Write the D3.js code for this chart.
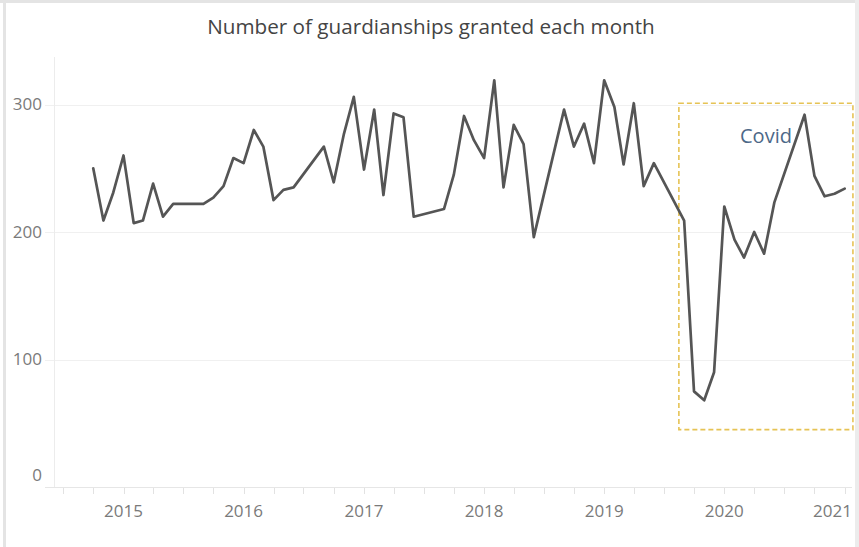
<!DOCTYPE html>
<html>
<head>
<meta charset="utf-8">
<script src="https://cdn.jsdelivr.net/npm/d3@7/dist/d3.min.js"></script>
<style>
  html, body { margin: 0; padding: 0; background: #fff; }
  svg { display: block; }
  text { font-family: "Open Sans", "Noto Sans", sans-serif; }
</style>
</head>
<body>
<svg id="chart" width="859" height="547"></svg>
<script>
// ---- data ----
const title = "Number of guardianships granted each month";
const months = [
  "2014-10","2014-11","2014-12",
  "2015-01","2015-02","2015-03","2015-04","2015-05","2015-06","2015-09","2015-10","2015-11","2015-12",
  "2016-01","2016-02","2016-03","2016-04","2016-05","2016-06","2016-09","2016-10","2016-11","2016-12",
  "2017-01","2017-02","2017-03","2017-04","2017-05","2017-06","2017-09","2017-10","2017-11","2017-12",
  "2018-01","2018-02","2018-03","2018-04","2018-05","2018-06","2018-09","2018-10","2018-11","2018-12",
  "2019-01","2019-02","2019-03","2019-04","2019-05","2019-06","2019-09","2019-10","2019-11","2019-12",
  "2020-01","2020-02","2020-03","2020-04","2020-05","2020-06","2020-09","2020-10","2020-11","2020-12",
  "2021-01"
];
const granted = [
  250,209,231,
  260,207,209,238,212,222,222,227,236,258,
  254,280,267,225,233,235,267,239,277,306,
  249,296,229,293,290,212,218,245,291,272,
  258,319,235,284,269,196,296,267,285,254,
  319,298,253,301,236,254,209,75,68,90,
  220,194,180,200,183,223,292,244,228,230,
  234
];
const yTicks = [0, 100, 200, 300];
const yearTicks = ["2015","2016","2017","2018","2019","2020","2021"];
const covidLabel = "Covid";
const covidBox = { from: "2019-08-16", to: "2021-01-26", low: 45, high: 301 };

// ---- layout ----
const svg = d3.select("#chart");
const W = 859, H = 547;
const plot = { left: 54, right: 852, top: 57, bottom: 487 };
const parse = d3.timeParse("%Y-%m");
const parseDay = d3.timeParse("%Y-%m-%d");
const data = months.map((m, i) => ({ date: parse(m), value: granted[i] }));

const x = d3.scaleTime()
  .domain([new Date(2015, 0, 1), new Date(2021, 0, 1)])
  .range([123.5, 844.7]);
const y = d3.scaleLinear().domain([0, 300]).range([487, 104.5]);

// frame
svg.append("rect").attr("x", 0).attr("y", 0).attr("width", W).attr("height", H).attr("fill", "#fff");
svg.append("line").attr("x1", 4.5).attr("x2", 4.5).attr("y1", 0).attr("y2", H)
  .attr("stroke", "#e4e4e4").attr("stroke-width", 3);
svg.append("line").attr("x1", 0).attr("x2", W).attr("y1", 1.5).attr("y2", 1.5)
  .attr("stroke", "#e4e4e4").attr("stroke-width", 3);
svg.append("rect").attr("x", 855).attr("y", 0).attr("width", 4).attr("height", H).attr("fill", "#ececec");

// gridlines
svg.append("g").selectAll("line").data(yTicks).join("line")
  .attr("x1", 45).attr("x2", plot.right)
  .attr("y1", d => Math.round(y(d)) + 0.5).attr("y2", d => Math.round(y(d)) + 0.5)
  .attr("stroke", d => d === 0 ? "#e6e6e6" : "#f0f0f0").attr("stroke-width", 1);

// vertical axis line
svg.append("line").attr("x1", plot.left + 0.5).attr("x2", plot.left + 0.5)
  .attr("y1", plot.top).attr("y2", plot.bottom)
  .attr("stroke", "#ececec").attr("stroke-width", 1);

// x ticks (quarterly)
const tickDates = d3.timeMonth.every(3).range(new Date(2014, 6, 1), new Date(2021, 0, 2));
svg.append("g").selectAll("line").data(tickDates).join("line")
  .attr("x1", d => Math.round(x(d)) + 0.5).attr("x2", d => Math.round(x(d)) + 0.5)
  .attr("y1", plot.bottom + 1).attr("y2", plot.bottom + 7)
  .attr("stroke", "#e2e2e2").attr("stroke-width", 1);

// y tick labels
svg.append("g").selectAll("text").data(yTicks).join("text")
  .attr("x", 42).attr("y", d => d === 0 ? y(d) - 12 : y(d))
  .attr("dy", "0.35em").attr("text-anchor", "end")
  .attr("font-size", 17).attr("fill", "#7a7a7a")
  .text(d => d);

// x tick labels
const xl = svg.append("g").selectAll("text").data(yearTicks).join("text")
  .attr("y", 511).attr("dy", "0.35em")
  .attr("font-size", 17).attr("fill", "#7a7a7a")
  .text(d => d);
xl.each(function (d) {
  const t = d3.select(this);
  const cx = x(new Date(+d, 0, 1));
  const w = this.getComputedTextLength();
  if (cx + w / 2 > plot.right) t.attr("x", plot.right).attr("text-anchor", "end");
  else t.attr("x", cx).attr("text-anchor", "middle");
});

// covid box
svg.append("rect")
  .attr("x", x(parseDay(covidBox.from)))
  .attr("y", y(covidBox.high))
  .attr("width", x(parseDay(covidBox.to)) - x(parseDay(covidBox.from)))
  .attr("height", y(covidBox.low) - y(covidBox.high))
  .attr("fill", "none").attr("stroke", "#e6c355").attr("stroke-width", 1.6)
  .attr("stroke-dasharray", "5,3");

// line
svg.append("path").datum(data)
  .attr("fill", "none").attr("stroke", "#555").attr("stroke-width", 2.7)
  .attr("stroke-linejoin", "round").attr("stroke-linecap", "round")
  .attr("d", d3.line().x(d => x(d.date)).y(d => y(d.value)));

// covid label
const cl = svg.append("text").attr("x", 740).attr("y", 142.5)
  .attr("font-size", 17).attr("fill", "#4d6888").text(covidLabel);
{
  const w = cl.node().getComputedTextLength();
  cl.attr("font-size", 17 * 52 / w);
}

// title
const tt = svg.append("text").attr("x", 431).attr("y", 34)
  .attr("text-anchor", "middle").attr("font-size", 18).attr("fill", "#444")
  .text(title);
{
  const w = tt.node().getComputedTextLength();
  tt.attr("font-size", 18 * 448 / w);
}
</script>
</body>
</html>
